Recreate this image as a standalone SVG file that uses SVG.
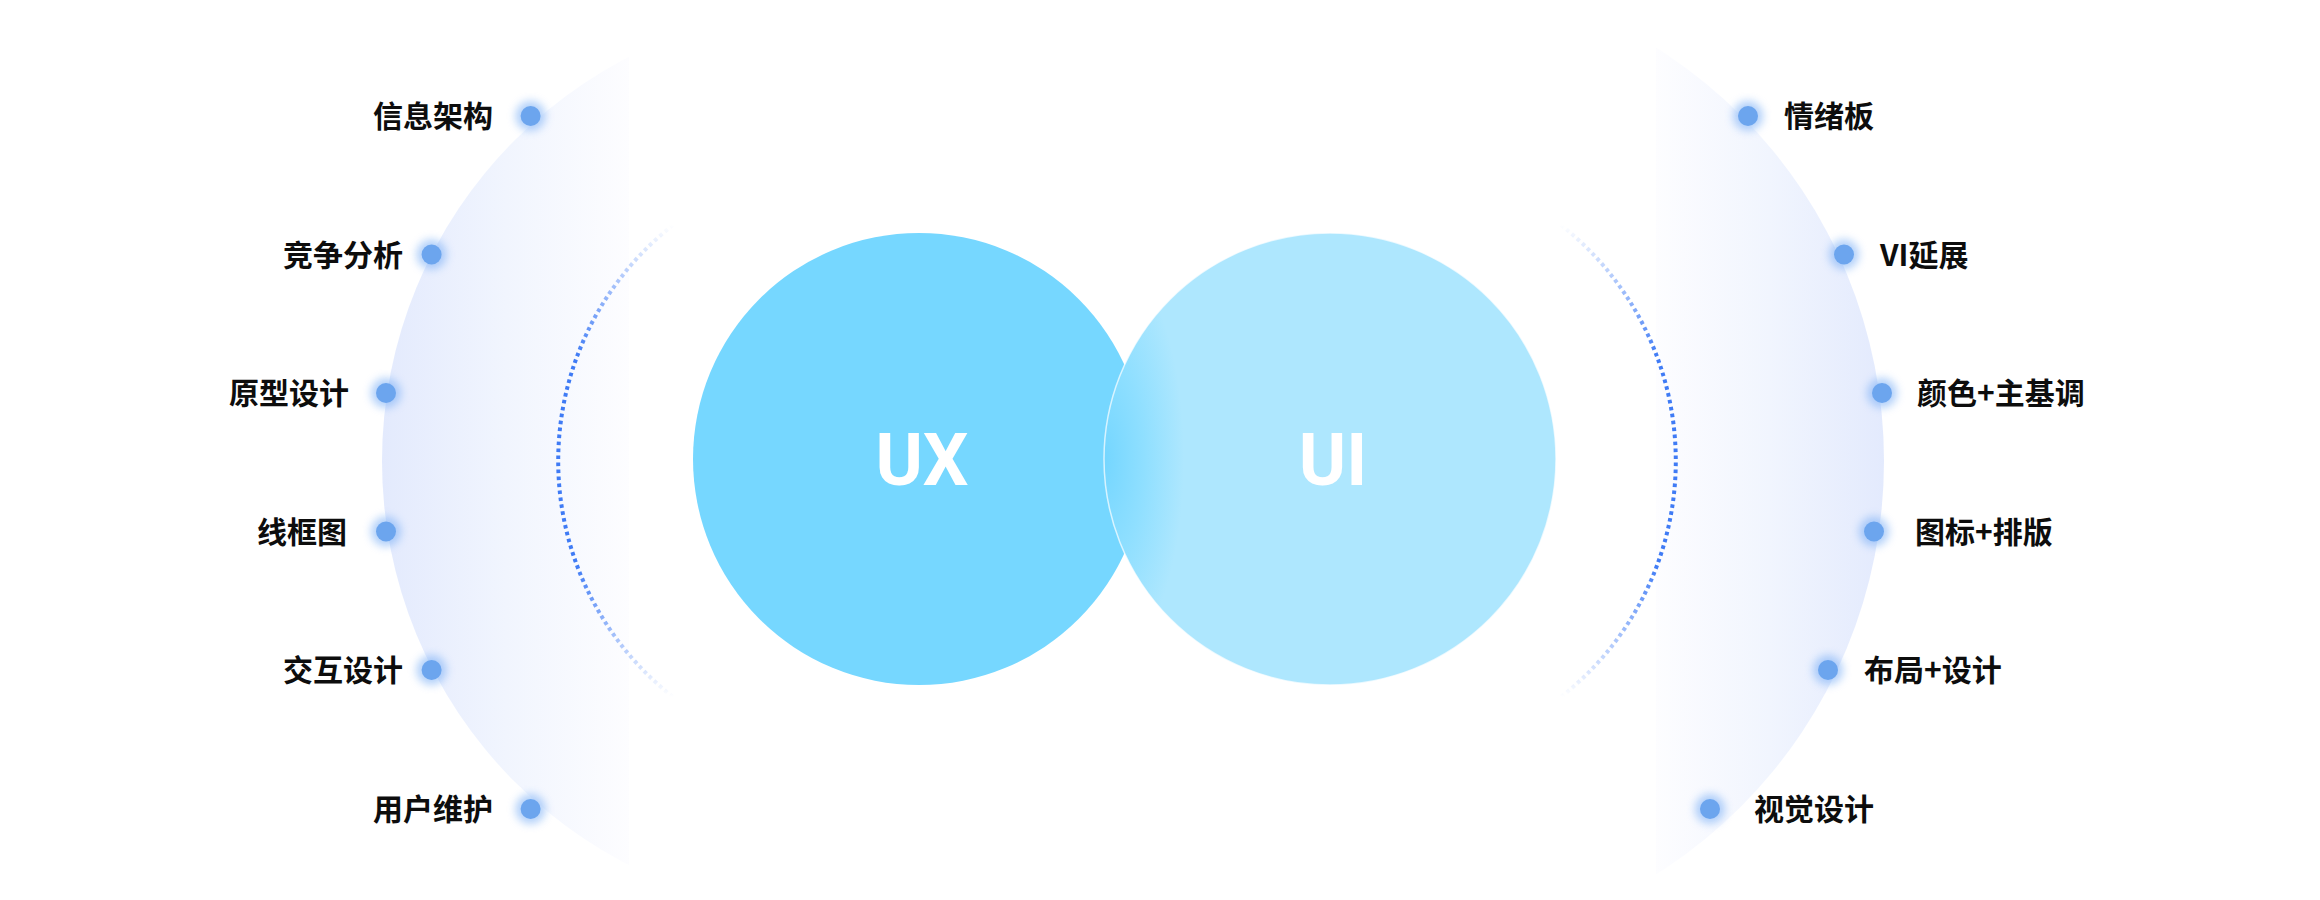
<svg xmlns="http://www.w3.org/2000/svg" width="2320" height="900" viewBox="0 0 2320 900">
<style>
.lbl{font-family:"Noto Sans CJK SC","Noto Sans",sans-serif;font-size:30px;font-weight:700;fill:#0d0d0d}
.l{text-anchor:end}
.big{font-family:Roboto,"Liberation Sans",sans-serif;font-size:72px;font-weight:700;fill:#ffffff;text-anchor:middle}
.glow{fill:#7EB1F6;opacity:0.6}
.dot{fill:#6CA5EE}
.dots{fill:none;stroke-width:4;stroke-dasharray:3.6 3.4}
</style>
<defs>
<linearGradient id="gl" gradientUnits="userSpaceOnUse" x1="382" y1="0" x2="630" y2="0">
<stop offset="0" stop-color="#E3EAFD"/>
<stop offset="0.5" stop-color="#F1F5FE"/>
<stop offset="1" stop-color="#FDFDFF"/>
</linearGradient>
<linearGradient id="gr" gradientUnits="userSpaceOnUse" x1="1884" y1="0" x2="1655" y2="0">
<stop offset="0" stop-color="#E3EAFD"/>
<stop offset="0.5" stop-color="#F1F5FE"/>
<stop offset="1" stop-color="#FDFDFF"/>
</linearGradient>
<clipPath id="cl"><rect x="0" y="0" width="629" height="900"/></clipPath>
<clipPath id="cr"><rect x="1656" y="0" width="700" height="900"/></clipPath>
<linearGradient id="dg" gradientUnits="userSpaceOnUse" x1="0" y1="225" x2="0" y2="697">
<stop offset="0" stop-color="#3F7BF5" stop-opacity="0"/>
<stop offset="0.28" stop-color="#3F7BF5" stop-opacity="1"/>
<stop offset="0.72" stop-color="#3F7BF5" stop-opacity="1"/>
<stop offset="1" stop-color="#3F7BF5" stop-opacity="0"/>
</linearGradient>
<radialGradient id="ui" gradientUnits="userSpaceOnUse" cx="1104" cy="459" r="80" gradientTransform="translate(1104 459) scale(1 2.6) translate(-1104 -459)">
<stop offset="0" stop-color="#74D6FF"/>
<stop offset="0.5" stop-color="#8FDFFF"/>
<stop offset="1" stop-color="#AEE7FE"/>
</radialGradient>
<filter id="blur" x="-1" y="-1" width="3" height="3"><feGaussianBlur stdDeviation="4"/></filter>
</defs>
<rect width="2320" height="900" fill="#ffffff"/>
<g id="backdrop">
<circle cx="836" cy="461" r="454" fill="url(#gl)" clip-path="url(#cl)"/>
<circle cx="1395" cy="461" r="489" fill="url(#gr)" clip-path="url(#cr)"/>
</g>
<g id="connectors">
<path class="dots" d="M673 225 A300 300 0 0 0 673 697" stroke="url(#dg)"/>
<path class="dots" d="M1561 225 A300 300 0 0 1 1561 697" stroke="url(#dg)"/>
</g>
<g id="ux">
<circle cx="919" cy="459" r="226" fill="#76D7FF"/>
<text class="big" x="922" y="485">UX</text>
</g>
<g id="ui-node">
<circle cx="1330" cy="459" r="226" fill="url(#ui)" stroke="#ffffff" stroke-opacity="0.7" stroke-width="1.5"/>
<text class="big" x="1333" y="485">UI</text>
</g>
<g id="n-xxjg"><circle class="glow" cx="530.6" cy="116" r="15" filter="url(#blur)"/><circle class="dot" cx="530.6" cy="116" r="10"/><text class="lbl l" x="493" y="127">信息架构</text></g>
<g id="n-jzfx"><circle class="glow" cx="431.6" cy="254.5" r="15" filter="url(#blur)"/><circle class="dot" cx="431.6" cy="254.5" r="10"/><text class="lbl l" x="403" y="265.5">竞争分析</text></g>
<g id="n-yxsj"><circle class="glow" cx="386" cy="393" r="15" filter="url(#blur)"/><circle class="dot" cx="386" cy="393" r="10"/><text class="lbl l" x="349" y="404">原型设计</text></g>
<g id="n-xkt"><circle class="glow" cx="386" cy="531.5" r="15" filter="url(#blur)"/><circle class="dot" cx="386" cy="531.5" r="10"/><text class="lbl l" x="347" y="542.5">线框图</text></g>
<g id="n-jhsj"><circle class="glow" cx="431.6" cy="670" r="15" filter="url(#blur)"/><circle class="dot" cx="431.6" cy="670" r="10"/><text class="lbl l" x="403" y="681">交互设计</text></g>
<g id="n-yhwh"><circle class="glow" cx="530.6" cy="809" r="15" filter="url(#blur)"/><circle class="dot" cx="530.6" cy="809" r="10"/><text class="lbl l" x="493" y="820">用户维护</text></g>
<g id="n-qxb"><circle class="glow" cx="1748" cy="116" r="15" filter="url(#blur)"/><circle class="dot" cx="1748" cy="116" r="10"/><text class="lbl" x="1784" y="127">情绪板</text></g>
<g id="n-viyz"><circle class="glow" cx="1844" cy="254.5" r="15" filter="url(#blur)"/><circle class="dot" cx="1844" cy="254.5" r="10"/><text class="lbl" x="1880" y="265.5">VI延展</text></g>
<g id="n-ys"><circle class="glow" cx="1882" cy="393" r="15" filter="url(#blur)"/><circle class="dot" cx="1882" cy="393" r="10"/><text class="lbl" x="1917" y="404">颜色+主基调</text></g>
<g id="n-tb"><circle class="glow" cx="1874" cy="531.5" r="15" filter="url(#blur)"/><circle class="dot" cx="1874" cy="531.5" r="10"/><text class="lbl" x="1915" y="542.5">图标+排版</text></g>
<g id="n-bj"><circle class="glow" cx="1828" cy="670" r="15" filter="url(#blur)"/><circle class="dot" cx="1828" cy="670" r="10"/><text class="lbl" x="1864" y="681">布局+设计</text></g>
<g id="n-sjsj"><circle class="glow" cx="1710" cy="809" r="15" filter="url(#blur)"/><circle class="dot" cx="1710" cy="809" r="10"/><text class="lbl" x="1754" y="820">视觉设计</text></g>
</svg>
